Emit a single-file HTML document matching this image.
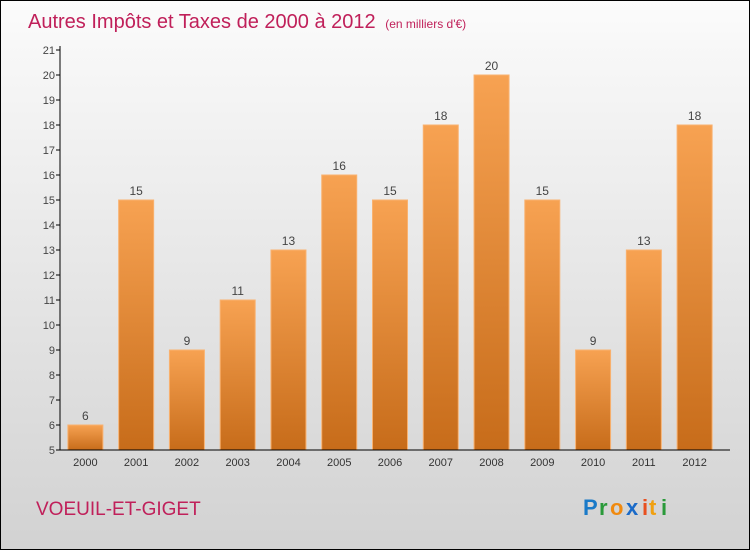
<!DOCTYPE html>
<html><head><meta charset="utf-8"><style>
body{margin:0;width:750px;height:550px;overflow:hidden;font-family:"Liberation Sans",sans-serif}
#c{position:absolute;left:0;top:0;width:748px;height:548px;border:1px solid #000;background:linear-gradient(#fbfbfb,#d2d2d2)}
</style></head><body>
<div id="c">
<svg id="s" width="748" height="548">
<defs><linearGradient id="g" x1="0" y1="0" x2="0" y2="1"><stop offset="0" stop-color="#f7a252"/><stop offset="1" stop-color="#c76c1a"/></linearGradient></defs>
<text x="27" y="27" font-size="20" fill="#c0205a">Autres Impôts et Taxes de 2000 à 2012 <tspan font-size="12" dx="4">(en milliers d'€)</tspan></text>
<text x="35" y="514" font-size="19" fill="#c0205a">VOEUIL-ET-GIGET</text>
<g font-size="22" font-weight="bold">
<text x="582" y="514" fill="#1a7ac8">P</text><text x="598" y="514" fill="#2a9a3a">r</text><text x="609" y="514" fill="#f08a10">o</text><text x="625" y="514" fill="#1a6ac8">x</text><text x="641" y="514" fill="#e85020">i</text><text x="648" y="514" fill="#f0a010">t</text><text x="660" y="514" fill="#2a9a3a">i</text></g>
<g id="plot"></g>
</svg></div>
<script>
const years=["2000","2001","2002","2003","2004","2005","2006","2007","2008","2009","2010","2011","2012"];
const values=[6,15,9,11,13,16,15,18,20,15,9,13,18];
const ticks=[5,6,7,8,9,10,11,12,13,14,15,16,17,18,19,20,21];
const NS="http://www.w3.org/2000/svg",p=document.getElementById('plot');
const X0=59,X1=719,Y0=449,ymin=5,ymax=21,slot=(X1-X0)/years.length;
const y=v=>Y0-(v-ymin)*(Y0-49)/(ymax-ymin);
function mk(t,a,par){const e=document.createElementNS(NS,t);for(const k in a)e.setAttribute(k,a[k]);(par||p).appendChild(e);return e;}
ticks.forEach(t=>{
const l=mk('line',{x1:X0-4,x2:X0,y1:y(t),y2:y(t),stroke:'#000'});


const tx=mk('text',{x:X0-5,y:y(t)+4,'text-anchor':'end','font-size':11,fill:'#444'});tx.textContent=t;


});
years.forEach((yr,i)=>{
const cx=X0+slot*(i+0.5),v=values[i];
const r=mk('rect',{x:cx-17.5,y:y(v),width:35,height:Y0-y(v),fill:'url(#g)',stroke:'#f9b270','stroke-width':1});


const lb=mk('text',{x:cx,y:y(v)-5,'text-anchor':'middle','font-size':12,fill:'#444'});lb.textContent=v;


const xl=mk('text',{x:cx,y:Y0+16,'text-anchor':'middle','font-size':11,fill:'#333'});xl.textContent=yr;


});
const ya=mk('line',{x1:X0,x2:X0,y1:45,y2:Y0,stroke:'#000'});


const xa=mk('line',{x1:X0,x2:X1+10,y1:Y0,y2:Y0,stroke:'#000'});


</script>
</body></html>
